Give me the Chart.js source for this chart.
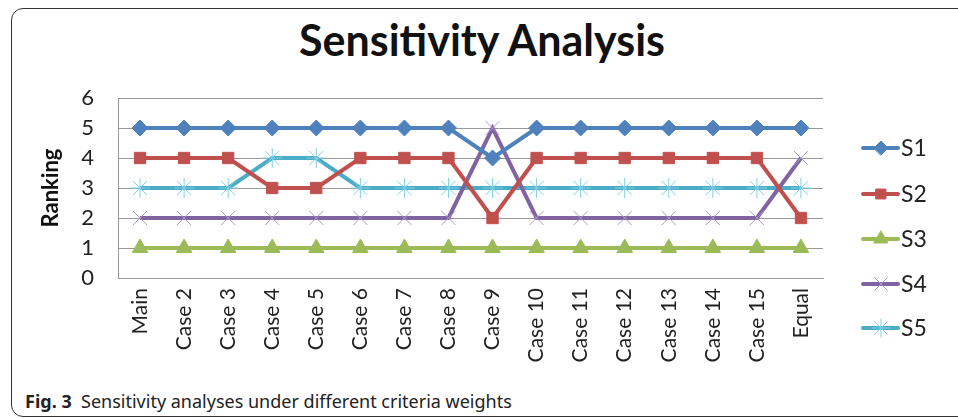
<!DOCTYPE html>
<html>
<head>
<meta charset="utf-8">
<script src="https://cdn.jsdelivr.net/npm/chart.js@4"></script>
<style>
  body { margin: 0; width: 958px; height: 418px; overflow: hidden; background: #fff; position: relative; }
  #frame { position: absolute; left: 11px; top: 8px; width: 980px; height: 407px; border: 1.5px solid #333; border-radius: 12px; }
  #title { position: absolute; left: 0; width: 964px; top: 14px; text-align: center; font: bold 43px Lato, sans-serif; color: #111; }
  #wrap { position: absolute; left: 0; top: 0; width: 958px; height: 380px; }
  #caption { position: absolute; left: 25px; top: 389px; font: 18px "Noto Sans", sans-serif; color: #222; }
</style>
</head>
<body>
<div id="frame"></div>
<div id="title">Sensitivity Analysis</div>
<div id="wrap"><canvas id="chart"></canvas></div>
<div id="caption"><b>Fig. 3</b>&nbsp; Sensitivity analyses under different criteria weights</div>
<script>
const cases = ['Main', 'Case 2', 'Case 3', 'Case 4', 'Case 5', 'Case 6', 'Case 7', 'Case 8',
  'Case 9', 'Case 10', 'Case 11', 'Case 12', 'Case 13', 'Case 14', 'Case 15', 'Equal'];
const s1 = [5, 5, 5, 5, 5, 5, 5, 5, 4, 5, 5, 5, 5, 5, 5, 5];
const s2 = [4, 4, 4, 3, 3, 4, 4, 4, 2, 4, 4, 4, 4, 4, 4, 2];
const s3 = [1, 1, 1, 1, 1, 1, 1, 1, 1, 1, 1, 1, 1, 1, 1, 1];
const s4 = [2, 2, 2, 2, 2, 2, 2, 2, 5, 2, 2, 2, 2, 2, 2, 4];
const s5 = [3, 3, 3, 4, 4, 3, 3, 3, 3, 3, 3, 3, 3, 3, 3, 3];
const yTicks = [0, 1, 2, 3, 4, 5, 6];

const series = [
  { label: 'S1', data: s1, borderColor: '#4f81bd', pointStyle: 'rectRot', pointRadius: 8, pointBackgroundColor: '#4f81bd', pointBorderColor: '#4f81bd', pointBorderWidth: 1 },
  { label: 'S2', data: s2, borderColor: '#c0504d', pointStyle: 'rect', pointRadius: 8, pointBackgroundColor: '#c0504d', pointBorderColor: '#c0504d', pointBorderWidth: 1 },
  { label: 'S3', data: s3, borderColor: '#9bbb59', pointStyle: 'triangle', pointRadius: 9, pointBackgroundColor: '#9bbb59', pointBorderColor: '#9bbb59', pointBorderWidth: 1 },
  { label: 'S4', data: s4, borderColor: '#8064a2', pointStyle: 'crossRot', pointRadius: 10, pointBackgroundColor: '#a99bc8', pointBorderColor: '#a99bc8', pointBorderWidth: 1 },
  { label: 'S5', data: s5, borderColor: '#4bacc6', pointStyle: 'star', pointRadius: 10, pointBackgroundColor: '#7fd0e6', pointBorderColor: '#7fd0e6', pointBorderWidth: 1 }
];

// legend drawn as line + marker like the original
const sideLegend = {
  id: 'sideLegend',
  afterDraw(chart) {
    const ctx = chart.ctx;
    const ys = [148, 194, 239, 284, 328];
    chart.data.datasets.forEach((ds, i) => {
      const y = ys[i];
      ctx.save();
      ctx.strokeStyle = ds.borderColor;
      ctx.lineWidth = 4;
      ctx.lineCap = 'round';
      ctx.beginPath();
      ctx.moveTo(863, y);
      ctx.lineTo(898, y);
      ctx.stroke();
      ctx.fillStyle = ds.pointBackgroundColor;
      ctx.strokeStyle = ds.pointBorderColor;
      ctx.lineWidth = ds.pointBorderWidth;
      Chart.helpers.drawPoint(ctx, { pointStyle: ds.pointStyle, radius: ds.pointRadius - 1, rotation: 0, borderWidth: 1 }, 881, y);
      ctx.fillStyle = '#222';
      ctx.font = '23px Lato, sans-serif';
      ctx.textAlign = 'left';
      ctx.textBaseline = 'middle';
      ctx.fillText(ds.label, 901, y + 1);
      ctx.restore();
    });
  }
};

new Chart(document.getElementById('chart'), {
  type: 'line',
  data: {
    labels: cases,
    datasets: series.map(s => Object.assign({ borderWidth: 4, tension: 0, fill: false }, s))
  },
  options: {
    responsive: true,
    maintainAspectRatio: false,
    animation: false,
    layout: { padding: { top: 98, right: 135, left: 0, bottom: 0 } },
    plugins: { legend: { display: false }, tooltip: { enabled: false } },
    scales: {
      x: {
        offset: true,
        grid: { display: false, drawTicks: false },
        border: { color: '#999', width: 1 },
        ticks: { color: '#222', font: { family: 'Lato', size: 21 }, minRotation: 90, maxRotation: 90, padding: 10, autoSkip: false },
        afterFit(scale) { scale.height = 102; }
      },
      y: {
        min: 0,
        max: 6,
        afterBuildTicks(scale) { scale.ticks = yTicks.map(v => ({ value: v })); },
        grid: { color: '#999', lineWidth: 1, drawTicks: false },
        border: { color: '#999', width: 1 },
        ticks: { color: '#222', font: { family: 'Lato', size: 22 }, padding: 24 },
        title: { display: true, text: 'Ranking', color: '#111', font: { family: 'Lato', size: 22, weight: 'bold' }, padding: { top: 38, bottom: 0 } },
        afterFit(scale) { scale.width = 118; }
      }
    }
  },
  plugins: [sideLegend]
});
</script>
</body>
</html>
